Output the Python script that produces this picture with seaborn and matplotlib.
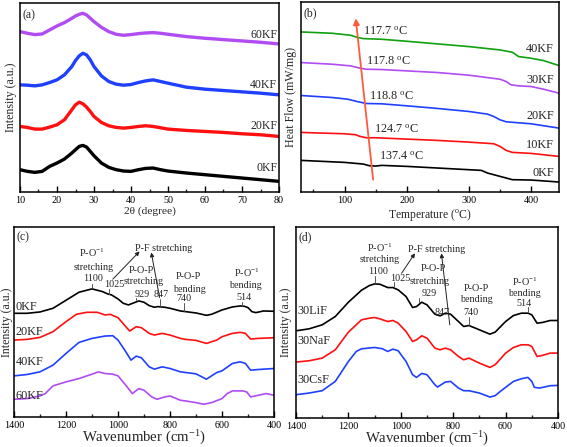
import matplotlib
matplotlib.use("Agg")
import matplotlib.pyplot as plt
import seaborn as sns
import pandas as pd
from matplotlib.ticker import MultipleLocator

sns.set_theme(style="white")
plt.rcParams['font.family'] = ['Liberation Serif', 'DejaVu Serif']
plt.rcParams['mathtext.fontset'] = 'custom'
plt.rcParams['mathtext.rm'] = 'Liberation Serif'
plt.rcParams['mathtext.it'] = 'Liberation Serif:italic'

# ---------------- (a) XRD ----------------
xrd_2theta = [10, 12, 14, 16, 18, 20, 22, 24, 25, 26, 27, 28, 29, 30, 32, 34, 36, 38, 40,
              42, 44, 46, 48, 50, 55, 60, 65, 70, 75, 80]
xrd_0KF = [67, 62, 59, 62, 77, 87, 99, 117, 127, 137, 140, 135, 122, 109, 87, 74, 67, 63, 62,
           67, 71, 72, 67, 63, 57, 52, 47, 42, 37, 32]
xrd_20KF = [197, 194, 189, 189, 195, 202, 217, 247, 262, 270, 265, 255, 242, 227, 209, 199, 194, 192, 194,
            197, 199, 197, 193, 189, 185, 182, 179, 175, 172, 167]
xrd_40KF = [322, 321, 319, 322, 329, 337, 352, 377, 395, 409, 417, 412, 397, 377, 349, 332, 324, 321, 323,
            329, 334, 337, 332, 327, 315, 309, 305, 301, 297, 292]
xrd_60KF = [482, 477, 473, 475, 487, 499, 509, 522, 529, 534, 537, 532, 522, 512, 495, 482, 474, 471, 473,
            476, 478, 479, 477, 474, 467, 462, 458, 454, 450, 445]
xrd_labels = ["0KF", "20KF", "40KF", "60KF"]
xrd_label_y = [72, 197, 322, 472]

# ---------------- (b) DSC ----------------
t_0KF = [30, 100, 130, 140, 150, 160, 200, 250, 300, 320, 330, 350, 370, 400, 445]
dsc_0KF = [95, 89, 84, 79, 78, 80, 77, 72, 67, 65, 57, 47, 37, 36, 30]
t_10KF = [30, 100, 118, 125, 135, 150, 200, 250, 300, 340, 350, 360, 370, 400, 445]
dsc_10KF = [179, 175, 172, 167, 163, 163, 159, 155, 150, 145, 137, 125, 119, 116, 107]
t_20KF = [30, 80, 105, 120, 135, 160, 200, 250, 300, 330, 340, 350, 360, 400, 445]
dsc_20KF = [290, 284, 279, 272, 266, 265, 259, 251, 242, 234, 227, 217, 211, 205, 192]
t_30KF = [30, 80, 110, 125, 135, 160, 200, 250, 300, 350, 360, 368, 380, 400, 420, 445]
dsc_30KF = [389, 384, 379, 372, 369, 368, 364, 359, 351, 339, 332, 322, 319, 317, 309, 297]
t_40KF = [30, 80, 110, 120, 130, 160, 200, 250, 300, 350, 370, 380, 400, 420, 445]
dsc_40KF = [481, 477, 471, 465, 461, 459, 453, 445, 437, 427, 420, 407, 402, 395, 380]
tg_labels = ["117.7 $^{\\rm o}$C", "117.8 $^{\\rm o}$C", "118.8 $^{\\rm o}$C",
             "124.7 $^{\\rm o}$C", "137.4 $^{\\rm o}$C"]
tg_text_x = [130, 134, 140, 148, 156]
tg_text_y = [482, 392, 287, 187, 107]
dsc_labels = ["40KF", "30KF", "20KF", "10KF", "0KF"]
dsc_label_y = [429, 337, 227, 142, 57]

# ---------------- (c) FTIR xKF ----------------
wn_c0 = [1400, 1350, 1300, 1250, 1200, 1150, 1100, 1060, 1040, 1025, 1000, 980, 960, 940, 920, 900,
         880, 860, 847, 820, 800, 760, 740, 700, 660, 640, 600, 560, 530, 514, 500, 485, 470, 440, 400]
ir_0KF = [310, 310, 314, 325, 349, 373, 383, 375, 368, 365, 353, 340, 335, 341, 347, 343,
          333, 328, 330, 328, 325, 317, 315, 311, 304, 307, 320, 329, 332, 331, 327, 315, 312, 317, 316]
wn_c = [1400, 1350, 1300, 1250, 1200, 1160, 1120, 1080, 1050, 1030, 1000, 970, 955, 930, 910, 880,
        860, 830, 800, 760, 740, 700, 660, 620, 600, 560, 530, 510, 490, 460, 400]
ir_20KF = [230, 232, 238, 255, 285, 307, 313, 313, 305, 307, 297, 270, 257, 270, 267, 250,
           245, 250, 245, 235, 232, 229, 220, 230, 240, 250, 253, 250, 233, 235, 237]
wn_c40 = [1400, 1350, 1300, 1250, 1200, 1150, 1100, 1050, 1020, 1000, 970, 950, 930, 910, 880,
          860, 830, 800, 760, 740, 700, 660, 620, 600, 560, 530, 510, 490, 460, 400]
ir_40KF = [123, 127, 135, 155, 190, 223, 235, 242, 243, 230, 195, 170, 182, 177, 150,
           143, 150, 145, 135, 133, 129, 113, 133, 138, 160, 165, 160, 140, 142, 145]
wn_c60 = [1400, 1350, 1300, 1280, 1250, 1200, 1150, 1100, 1075, 1050, 1020, 1000, 970, 945, 920, 900,
          870, 850, 820, 800, 760, 740, 700, 670, 640, 600, 580, 560, 520, 505, 490, 460, 430, 400]
ir_60KF = [53, 55, 63, 70, 93, 105, 115, 128, 135, 130, 128, 123, 95, 70, 85, 80,
           60, 53, 60, 63, 50, 48, 43, 38, 43, 55, 70, 78, 78, 75, 60, 65, 70, 65]
ir_c_labels = ["0KF", "20KF", "40KF", "60KF"]
ir_c_label_y = [330, 253, 163, 63]

# ---------------- (d) FTIR 30MF ----------------
wn_d = [1400, 1350, 1300, 1250, 1200, 1150, 1120, 1100, 1080, 1050, 1030, 1010, 980, 955, 940, 920, 900,
        870, 850, 830, 810, 780, 760, 740, 700, 660, 640, 600, 570, 540, 514, 500, 480, 460, 430, 400]
ir_LiF = [262, 268, 280, 305, 348, 384, 398, 403, 402, 392, 392, 385, 365, 332, 335, 348, 340,
          312, 307, 315, 312, 290, 275, 278, 265, 252, 258, 290, 308, 315, 315, 310, 285, 287, 293, 293]
ir_NaF = [168, 172, 180, 205, 258, 295, 300, 302, 298, 290, 293, 285, 260, 230, 235, 247, 240,
          210, 205, 210, 205, 185, 175, 180, 165, 152, 160, 195, 212, 220, 220, 215, 185, 188, 195, 195]
wn_d_cs = [1400, 1350, 1300, 1250, 1200, 1170, 1150, 1100, 1070, 1050, 1030, 1010, 980, 955, 940, 920, 900,
           870, 860, 830, 810, 780, 760, 740, 700, 660, 640, 620, 600, 570, 540, 515, 500, 490, 470, 430, 400]
ir_CsF = [70, 75, 82, 110, 170, 200, 208, 212, 208, 200, 207, 202, 170, 130, 122, 134, 130,
          100, 93, 108, 110, 90, 82, 82, 75, 63, 67, 80, 92, 110, 118, 122, 110, 92, 90, 97, 98]
ir_d_labels = ["30LiF", "30NaF", "30CsF"]
ir_d_label_y = [322, 230, 115]

RED, BLUE, PURPLE, GREEN = "#ff1010", "#2040ff", "#b04cf2", "#10a010"

W, H = 567, 447
fig = plt.figure(figsize=(W / 100, H / 100), dpi=100)


def add_ax(l, r, t, b):
    return fig.add_axes([l / W, (H - b) / H, (r - l) / W, (b - t) / H])


axa = add_ax(20, 279, 3, 192)
axb = add_ax(301, 559, 2, 192)
axc = add_ax(14, 274, 227, 417)
axd = add_ax(296, 558, 227, 418)

TICK_FS = 7.3
LAB_FS = 8.6


def style(ax):
    for s in ax.spines.values():
        s.set_linewidth(1.1)
        s.set_color("black")
    ax.tick_params(axis="x", which="major", direction="in", length=4, width=1,
                   labelsize=TICK_FS, pad=3, top=False, bottom=True, colors="black")
    ax.tick_params(axis="x", which="minor", direction="in", length=2.5, width=1, top=False, bottom=True)
    ax.tick_params(axis="y", which="both", left=False, right=False, labelleft=False)


def line(ax, x, y, color, lw=1.2):
    df = pd.DataFrame({"x": x, "y": y})
    sns.lineplot(data=df, x="x", y="y", ax=ax, color=color, lw=lw, estimator=None, sort=False)


# (a)
for y, c in zip([xrd_0KF, xrd_20KF, xrd_40KF, xrd_60KF], ["black", RED, BLUE, PURPLE]):
    line(axa, xrd_2theta, y, c, lw=2.4)
axa.set_xlim(10, 80)
axa.set_ylim(0, 568)
axa.xaxis.set_major_locator(MultipleLocator(10))
axa.xaxis.set_minor_locator(MultipleLocator(5))
for lab, yy in zip(xrd_labels, xrd_label_y):
    axa.text(79.5, yy, lab, ha="right", va="center", fontsize=8.5)
axa.text(0.01, 0.965, "(a)", transform=axa.transAxes, ha="left", va="top", fontsize=8.5)
axa.set_xlabel("2θ (degree)", fontsize=8.2, labelpad=1)
axa.set_ylabel("Intensity (a.u.)", fontsize=LAB_FS, labelpad=2)
style(axa)

# (b)
for x, y, c in zip([t_0KF, t_10KF, t_20KF, t_30KF, t_40KF],
                   [dsc_0KF, dsc_10KF, dsc_20KF, dsc_30KF, dsc_40KF],
                   ["black", RED, BLUE, PURPLE, GREEN]):
    line(axb, x, y, c, lw=1.2)
axb.set_xlim(30, 445)
axb.set_ylim(0, 571)
axb.xaxis.set_major_locator(MultipleLocator(100))
axb.xaxis.set_minor_locator(MultipleLocator(50))
axb.annotate("", xy=(118, 522), xytext=(146, 37),
             arrowprops=dict(arrowstyle="-|>", color="#ff5a3c", lw=1.3, mutation_scale=9,
                             shrinkA=0, shrinkB=0))
for lab, xx, yy in zip(tg_labels, tg_text_x, tg_text_y):
    axb.text(xx, yy, lab, ha="left", va="center", fontsize=8.8)
for lab, yy in zip(dsc_labels, dsc_label_y):
    axb.text(437, yy, lab, ha="right", va="center", fontsize=8.8)
axb.text(0.01, 0.97, "(b)", transform=axb.transAxes, ha="left", va="top", fontsize=8.5)
axb.set_xlabel("Temperature ($^{\\rm o}$C)", fontsize=8.4, labelpad=1)
axb.set_ylabel("Heat Flow (mW/mg)", fontsize=LAB_FS, labelpad=3)
style(axb)

# (c)
for x, y, c in zip([wn_c0, wn_c, wn_c40, wn_c60], [ir_0KF, ir_20KF, ir_40KF, ir_60KF],
                   ["black", RED, BLUE, PURPLE]):
    line(axc, x, y, c, lw=1.2)
axc.set_xlim(1400, 400)
axc.set_ylim(0, 568)
axc.xaxis.set_major_locator(MultipleLocator(200))
axc.xaxis.set_minor_locator(MultipleLocator(100))
for lab, yy in zip(ir_c_labels, ir_c_label_y):
    axc.text(1393, yy, lab, ha="left", va="center", fontsize=8.8)
axc.text(0.01, 0.975, "(c)", transform=axc.transAxes, ha="left", va="top", fontsize=8.5)
FS_A = 7.3
ann_c = [("P-O$^{-1}$", 1099, 492), ("stretching", 1094, 447), ("1100", 1095, 414),
         ("1025", 1016, 396), ("P-F stretching", 825, 504),
         ("P-O-P", 912, 437), ("stretching", 900, 405), ("929", 908, 367), ("847", 834, 367),
         ("P-O-P", 728, 420), ("bending", 724, 382), ("740", 746, 354),
         ("P-O$^{-1}$", 505, 432), ("bending", 508, 392), ("514", 516, 357)]
for s, xx, yy in ann_c:
    axc.text(xx, yy, s, ha="center", va="center", fontsize=FS_A)
for xx, y0, y1 in [(1100, 398, 386), (1033, 383, 368), (929, 355, 349), (840, 352, 333),
                   (746, 340, 318), (525, 345, 333)]:
    axc.plot([xx, xx], [y0, y1], color="#555555", lw=0.7)
for (x0, y0), (x1, y1) in [((1020, 412), (917, 495)), ((840, 357), (872, 492))]:
    axc.annotate("", xy=(x1, y1), xytext=(x0, y0),
                 arrowprops=dict(arrowstyle="-|>", color="#222222", lw=0.7, mutation_scale=6,
                                 shrinkA=0, shrinkB=0))
axc.set_xlabel("Wavenumber (cm$^{-1}$)", fontsize=10.6, labelpad=-1)
axc.set_ylabel("Intensity (a.u.)", fontsize=8.6, labelpad=1)
style(axc)

# (d)
for x, y, c in zip([wn_d, wn_d, wn_d_cs], [ir_LiF, ir_NaF, ir_CsF], ["black", RED, BLUE]):
    line(axd, x, y, c, lw=1.2)
axd.set_xlim(1400, 400)
axd.set_ylim(0, 574)
axd.xaxis.set_major_locator(MultipleLocator(200))
axd.xaxis.set_minor_locator(MultipleLocator(100))
for lab, yy in zip(ir_d_labels, ir_d_label_y):
    axd.text(1393, yy, lab, ha="left", va="center", fontsize=8.8)
axd.text(0.01, 0.975, "(d)", transform=axd.transAxes, ha="left", va="top", fontsize=8.5)
ann_d = [("P-O$^{-1}$", 1080, 510), ("stretching", 1080, 475), ("1100", 1088, 440),
         ("1025", 1004, 420), ("P-F stretching", 864, 505),
         ("P-O-P", 877, 450), ("stretching", 889, 410), ("929", 893, 375), ("847", 841, 318),
         ("P-O-P", 711, 390), ("bending", 711, 355), ("740", 734, 318),
         ("P-O$^{-1}$", 527, 410), ("bending", 527, 375), ("514", 531, 345)]
for s, xx, yy in ann_d:
    axd.text(xx, yy, s, ha="center", va="center", fontsize=FS_A)
for xx, y0, y1 in [(1100, 427, 405), (1025, 408, 394), (929, 362, 350), (847, 306, 308),
                   (740, 305, 280), (514, 333, 318)]:
    axd.plot([xx, xx], [y0, y1], color="#555555", lw=0.7)
for (x0, y0), (x1, y1) in [((997, 435), (946, 495)), ((813, 280), (845, 495))]:
    axd.annotate("", xy=(x1, y1), xytext=(x0, y0),
                 arrowprops=dict(arrowstyle="-|>", color="#222222", lw=0.7, mutation_scale=6,
                                 shrinkA=0, shrinkB=0))
axd.set_xlabel("Wavenumber (cm$^{-1}$)", fontsize=10.6, labelpad=-1)
axd.set_ylabel("Intensity (a.u.)", fontsize=LAB_FS, labelpad=3)
style(axd)

fig.savefig("out.png", dpi=100)
